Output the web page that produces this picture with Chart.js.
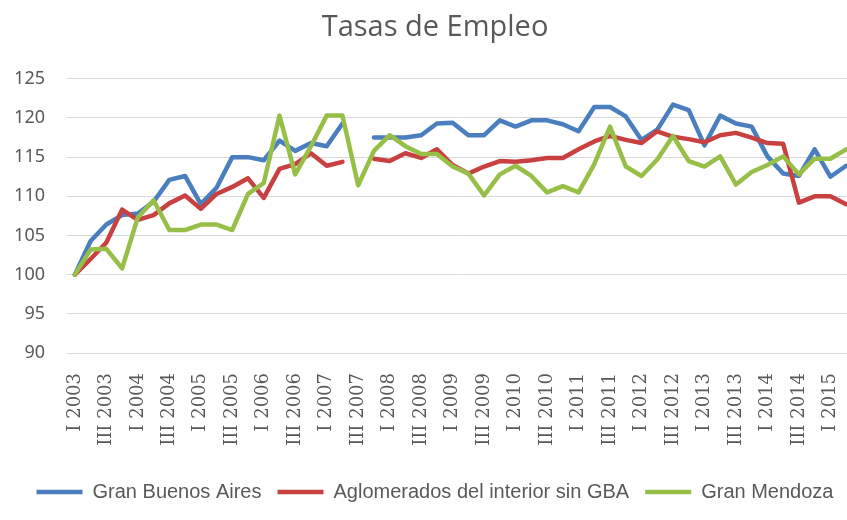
<!DOCTYPE html>
<html>
<head>
<meta charset="utf-8">
<script src="https://cdn.jsdelivr.net/npm/chart.js@4/dist/chart.umd.min.js"></script>
<style>
  html, body { margin: 0; padding: 0; background: #fff; overflow: hidden; }
  canvas { display: block; }
</style>
</head>
<body>
<canvas id="empleoChart" width="870" height="520"></canvas>
<script>
// Tasas de Empleo - índice base I 2003 = 100
const quarters = [
  'I 2003', 'II 2003', 'III 2003', 'IV 2003',
  'I 2004', 'II 2004', 'III 2004', 'IV 2004',
  'I 2005', 'II 2005', 'III 2005', 'IV 2005',
  'I 2006', 'II 2006', 'III 2006', 'IV 2006',
  'I 2007', 'II 2007', 'III 2007', 'IV 2007',
  'I 2008', 'II 2008', 'III 2008', 'IV 2008',
  'I 2009', 'II 2009', 'III 2009', 'IV 2009',
  'I 2010', 'II 2010', 'III 2010', 'IV 2010',
  'I 2011', 'II 2011', 'III 2011', 'IV 2011',
  'I 2012', 'II 2012', 'III 2012', 'IV 2012',
  'I 2013', 'II 2013', 'III 2013', 'IV 2013',
  'I 2014', 'II 2014', 'III 2014', 'IV 2014',
  'I 2015', 'II 2015'
];

const granBuenosAires = [
  100, 104.3, 106.4, 107.6, 107.8, 109.3, 112.1, 112.6, 109.0, 111.1,
  115.0, 115.0, 114.6, 117.1, 115.8, 116.8, 116.4, 119.3, null, 117.5,
  117.5, 117.5, 117.8, 119.3, 119.4, 117.8, 117.8, 119.7, 118.9, 119.7,
  119.7, 119.2, 118.3, 121.4, 121.4, 120.2, 117.2, 118.5, 121.7, 121.0,
  116.5, 120.3, 119.3, 118.9, 115.1, 112.9, 112.6, 116.0, 112.5, 113.9
];

const aglomeradosInterior = [
  100, 102.0, 104.1, 108.3, 107.0, 107.6, 109.1, 110.1, 108.4, 110.3,
  111.2, 112.3, 109.8, 113.5, 114.1, 115.5, 113.9, 114.4, null, 114.8,
  114.5, 115.5, 114.9, 116.0, 114.0, 112.9, 113.8, 114.5, 114.4, 114.6,
  114.9, 114.9, 116.0, 117.0, 117.7, 117.2, 116.8, 118.3, 117.6, 117.3,
  116.9, 117.8, 118.1, 117.5, 116.8, 116.7, 109.2, 110.0, 110.0, 109.0
];

const granMendoza = [
  100, 103.2, 103.3, 100.8, 107.3, 109.5, 105.7, 105.7, 106.4, 106.4,
  105.7, 110.3, 111.7, 120.3, 112.8, 116.4, 120.3, 120.3, 111.4, 115.8,
  117.8, 116.4, 115.4, 115.4, 113.8, 112.9, 110.1, 112.8, 113.9, 112.6,
  110.5, 111.3, 110.5, 114.1, 118.9, 113.8, 112.6, 114.7, 117.7, 114.5,
  113.8, 115.1, 111.5, 113.1, 114.0, 115.1, 112.8, 114.8, 114.8, 116.0
];

const yTicks = [90, 95, 100, 105, 110, 115, 120, 125];

function serie(label, values, color, order) {
  return {
    label: label,
    data: values,
    borderColor: color,
    backgroundColor: color,
    borderWidth: 4.5,
    pointRadius: 0,
    pointHoverRadius: 0,
    pointStyle: 'line',
    tension: 0,
    spanGaps: false,
    borderJoinStyle: 'round',
    borderCapStyle: 'round',
    order: order
  };
}

const ctx = document.getElementById('empleoChart');
new Chart(ctx.getContext('2d'), {
  type: 'line',
  data: {
    labels: quarters,
    datasets: [
      serie('Gran Buenos Aires', granBuenosAires, '#4a7ebf', 3),
      serie('Aglomerados del interior sin GBA', aglomeradosInterior, '#c8403f', 2),
      serie('Gran Mendoza', granMendoza, '#97bf48', 1)
    ]
  },
  options: {
    responsive: false,
    animation: false,
    layout: { padding: { left: 16, right: 16, top: 0, bottom: 8 } },
    plugins: {
      title: {
        display: true,
        text: 'Tasas de Empleo',
        color: '#595959',
        font: { family: "'Open Sans', sans-serif", size: 29, weight: 'normal' },
        padding: { top: 10, bottom: 34 }
      },
      legend: {
        position: 'bottom',
        labels: {
          usePointStyle: true,
          pointStyleWidth: 46,
          color: '#595959',
          padding: 16,
          font: { family: "'Liberation Sans', sans-serif", size: 20 },
          sort: (a, b) => a.datasetIndex - b.datasetIndex
        }
      },
      tooltip: { enabled: false }
    },
    scales: {
      x: {
        offset: true,
        grid: { display: false },
        border: { display: false },
        afterFit: function(scale) {
          scale.height = 113;
          scale.paddingLeft = 0;
          scale.paddingRight = 0;
        },
        ticks: {
          autoSkip: false,
          minRotation: 90,
          maxRotation: 90,
          padding: 12,
          color: '#595959',
          font: { family: "'DejaVu Serif', serif", size: 18 },
          callback: function(value, index) {
            return index % 2 === 0 ? quarters[index] : '';
          }
        }
      },
      y: {
        min: yTicks[0],
        max: yTicks[yTicks.length - 1],
        afterFit: function(scale) { scale.width = 51; },
        afterBuildTicks: function(scale) {
          scale.ticks = yTicks.map(v => ({ value: v }));
        },
        grid: { color: '#d9d9d9', lineWidth: 1, drawTicks: false },
        border: { display: false },
        ticks: {
          padding: 22,
          color: '#595959',
          font: { family: "'Noto Sans', sans-serif", size: 18 }
        }
      }
    }
  }
});
</script>
</body>
</html>
